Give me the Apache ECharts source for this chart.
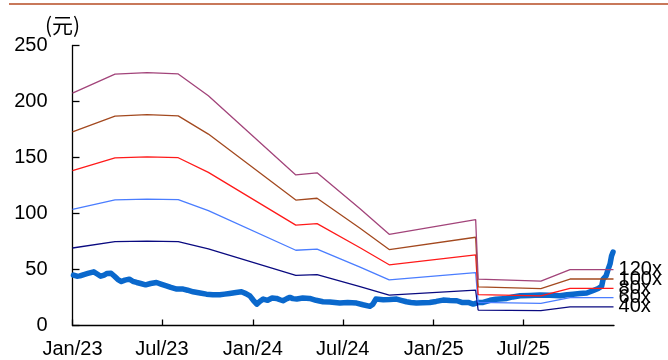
<!DOCTYPE html>
<html>
<head>
<meta charset="utf-8">
<script src="https://cdn.jsdelivr.net/npm/echarts@6/dist/echarts.min.js"></script>
<style>
  html, body { margin: 0; padding: 0; background: #fff; }
  #chart { width: 668px; height: 360px; }
</style>
</head>
<body>
<div id="chart"></div>
<script>
// Share price (元)
const priceDates = [
  '2023-01-03','2023-01-10','2023-01-16','2023-01-24','2023-02-01','2023-02-13','2023-02-20','2023-02-27',
  '2023-03-06','2023-03-12','2023-03-20','2023-03-27','2023-04-03','2023-04-10','2023-04-17','2023-04-26',
  '2023-05-03','2023-05-11','2023-05-19','2023-05-29','2023-06-08','2023-06-20','2023-06-29','2023-07-10',
  '2023-07-19','2023-07-31','2023-08-13','2023-08-22','2023-09-02','2023-09-16','2023-09-29','2023-10-12',
  '2023-10-26','2023-11-05','2023-11-15','2023-11-28','2023-12-09','2023-12-18','2023-12-26','2024-01-02',
  '2024-01-09','2024-01-15','2024-01-22','2024-01-31','2024-02-09','2024-02-18','2024-02-25','2024-03-02',
  '2024-03-10','2024-03-16','2024-03-22','2024-03-30','2024-04-11','2024-04-25','2024-05-08','2024-05-22',
  '2024-06-05','2024-06-25','2024-07-11','2024-07-29','2024-08-11','2024-08-25','2024-08-31','2024-09-06',
  '2024-09-21','2024-10-04','2024-10-18','2024-10-27','2024-11-07','2024-11-16','2024-11-27','2024-12-10',
  '2024-12-24','2025-01-06','2025-01-20','2025-02-03','2025-02-17','2025-02-27','2025-03-12','2025-03-22',
  '2025-04-01','2025-04-11','2025-04-25','2025-05-07','2025-05-29','2025-06-10','2025-06-25','2025-07-15',
  '2025-08-04','2025-08-24','2025-09-14','2025-09-28','2025-10-10','2025-10-24','2025-11-07','2025-11-19',
  '2025-11-30','2025-12-07','2025-12-10','2025-12-16','2025-12-20','2025-12-24','2025-12-27','2025-12-30'
];
const priceValues = [
  45.0, 44.0, 44.3, 45.5, 46.5, 47.9, 46.0, 44.0,
  45.0, 46.5, 46.7, 44.0, 41.0, 39.3, 40.5, 41.4,
  39.5, 38.4, 37.5, 36.3, 37.5, 38.4, 37.0, 35.4,
  34.0, 32.5, 32.5, 31.5, 30.1, 29.0, 28.0, 27.5,
  27.4, 28.0, 28.6, 29.5, 30.1, 28.5, 26.5, 22.5,
  19.1, 21.5, 23.6, 22.5, 24.5, 24.2, 23.0, 22.1,
  24.0, 25.1, 24.0, 23.6, 24.5, 24.2, 22.5, 21.2,
  21.0, 20.0, 20.5, 20.0, 18.5, 17.1, 19.0, 23.6,
  23.0, 23.2, 23.6, 22.5, 21.2, 20.5, 20.0, 20.3,
  20.6, 21.5, 22.7, 22.3, 22.1, 20.6, 20.6, 19.1,
  20.5, 20.6, 22.5, 23.5, 24.2, 25.5, 26.5, 26.8,
  27.2, 27.0, 26.5, 27.5, 28.0, 28.5, 29.0, 31.0,
  33.0, 35.0, 41.4, 44.3, 50.0, 55.0, 62.0, 65.5
];

// PE band lines (price at constant multiples of trailing EPS)
const bandDates = [
  '2023-01-01','2023-03-28','2023-06-01','2023-08-03','2023-10-03','2024-03-28','2024-05-10',
  '2024-08-05','2024-10-03','2025-03-27','2025-04-01','2025-08-06','2025-10-04','2025-12-31'
];
const pe40  = [69.2, 74.8, 75.3, 74.9, 68.4, 44.8, 45.4, 34.7, 27.1, 31.5, 13.8, 13.2, 16.6, 16.6];
const pe60  = [103.7, 112.2, 112.9, 112.3, 102.5, 67.2, 68.2, 52.1, 40.7, 47.3, 20.7, 19.8, 24.9, 24.9];
const pe80  = [138.3, 149.6, 150.6, 149.8, 136.7, 89.6, 90.9, 69.4, 54.2, 63.0, 27.6, 26.4, 33.2, 33.2];
const pe100 = [172.9, 187.0, 188.2, 187.2, 170.9, 112.0, 113.6, 86.8, 67.8, 78.8, 34.5, 33.0, 41.5, 41.5];
const pe120 = [207.5, 224.4, 225.8, 224.6, 205.1, 134.4, 136.3, 104.2, 81.4, 94.6, 41.4, 39.6, 49.8, 49.8];

const bandNames = ['40x', '60x', '80x', '100x', '120x'];

// Axis ticks
const tickDates = ['2023-01-01','2023-07-01','2024-01-01','2024-07-01','2025-01-01','2025-07-01'];
const yTicks = [0, 50, 100, 150, 200, 250];

const FONT = '"Liberation Sans", Arial, sans-serif';
const months = ['Jan','Feb','Mar','Apr','May','Jun','Jul','Aug','Sep','Oct','Nov','Dec'];
const toTs = s => { const p = s.split('-'); return Date.UTC(+p[0], +p[1] - 1, +p[2]); };

const bandData = [pe40, pe60, pe80, pe100, pe120];
const bandColors = ['#0a0a80', '#4a7dff', '#ff1a1a', '#a3491f', '#a2447a'];

const chart = echarts.init(document.getElementById('chart'), null, { renderer: 'canvas' });

const series = [{
  name: 'price',
  type: 'line',
  data: priceDates.map((d, i) => [toTs(d), priceValues[i]]),
  showSymbol: false,
  lineStyle: { color: '#0a68cc', width: 5.5, join: 'round', cap: 'round' },
  z: 2
}];
bandData.forEach((vals, k) => {
  series.push({
    name: bandNames[k],
    type: 'line',
    data: bandDates.map((d, i) => [toTs(d), vals[i]]),
    showSymbol: false,
    lineStyle: { color: bandColors[k], width: 1.3 },
    endLabel: {
      show: true,
      formatter: bandNames[k],
      color: '#000',
      fontSize: 20,
      fontFamily: FONT,
      distance: 5
    },
    z: 3
  });
});

const tickTs = tickDates.map(toTs);

chart.setOption({
  animation: false,
  backgroundColor: '#fff',
  grid: { left: 72.5, right: 54, top: 45.5, bottom: 34.5, containLabel: false },
  graphic: [{
    type: 'line',
    shape: { x1: 9, y1: 4, x2: 668, y2: 4 },
    style: { stroke: '#c8785a', lineWidth: 2 }
  }],
  xAxis: {
    // dates as UTC timestamps on a linear scale
    type: 'value',
    min: toTs('2023-01-01'),
    max: toTs('2026-01-01'),
    splitLine: { show: false },
    axisLine: { lineStyle: { color: '#000', width: 1.3 } },
    axisTick: {
      inside: true, length: 6,
      lineStyle: { color: '#000', width: 1.3 },
      customValues: tickTs
    },
    axisLabel: {
      customValues: tickTs,
      margin: 14,
      fontSize: 20,
      fontFamily: FONT,
      color: '#000',
      formatter: v => {
        const d = new Date(v);
        return months[d.getUTCMonth()] + '/' + String(d.getUTCFullYear()).slice(2);
      }
    }
  },
  yAxis: {
    type: 'value',
    min: yTicks[0],
    max: yTicks[yTicks.length - 1],
    interval: 50,
    name: '(元)',
    nameLocation: 'end',
    nameGap: 10,
    nameTextStyle: {
      fontSize: 21,
      fontFamily: '"Noto Sans CJK SC", sans-serif',
      color: '#000',
      padding: [0, 20, 0, 0]
    },
    splitLine: { show: false },
    axisLine: { show: true, lineStyle: { color: '#000', width: 1.3 } },
    axisTick: { show: true, inside: true, length: 7, lineStyle: { color: '#000', width: 1.3 } },
    axisLabel: { margin: 25, fontSize: 20, fontFamily: FONT, color: '#000' }
  },
  series: series
});
</script>
</body>
</html>
